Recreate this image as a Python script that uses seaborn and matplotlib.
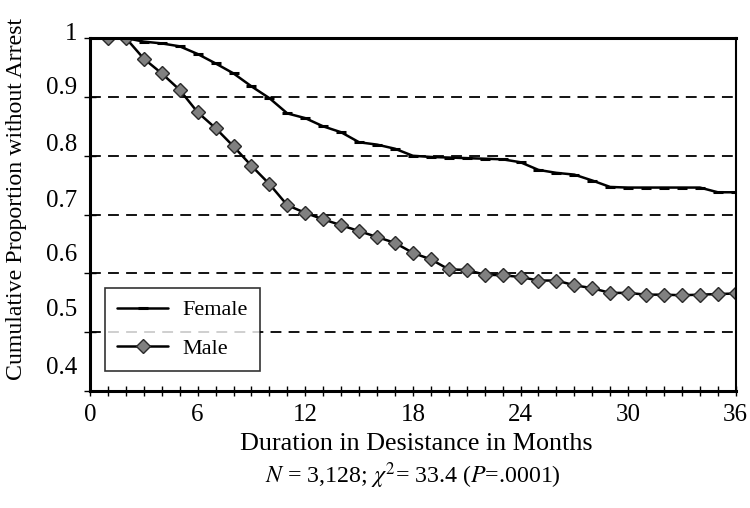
import numpy as np
import pandas as pd
import seaborn as sns
import matplotlib.pyplot as plt
from matplotlib.ticker import MultipleLocator
from matplotlib.transforms import offset_copy

# months since desistance began
months = list(range(1, 37))

# cumulative proportion without arrest
female = [1.000, 1.000, 0.994, 0.991, 0.986, 0.973, 0.957, 0.940, 0.918, 0.898,
          0.872, 0.864, 0.850, 0.840, 0.823, 0.819, 0.812, 0.800, 0.798, 0.797,
          0.796, 0.795, 0.794, 0.789, 0.776, 0.771, 0.768, 0.758, 0.747, 0.746,
          0.746, 0.746, 0.746, 0.746, 0.738, 0.738]
male = [1.000, 1.000, 0.965, 0.940, 0.912, 0.874, 0.847, 0.816, 0.783, 0.752,
        0.716, 0.703, 0.692, 0.682, 0.672, 0.662, 0.652, 0.635, 0.624, 0.607,
        0.606, 0.598, 0.597, 0.594, 0.588, 0.588, 0.580, 0.575, 0.567, 0.567,
        0.564, 0.564, 0.563, 0.564, 0.565, 0.566]

x_ticks = [0, 6, 12, 18, 24, 30, 36]
y_ticks = [0.4, 0.5, 0.6, 0.7, 0.8, 0.9, 1.0]
y_labels = ["0.4", "0.5", "0.6", "0.7", "0.8", "0.9", "1"]

df = pd.DataFrame({"Month": months, "Female": female, "Male": male})

sns.set_theme(style="white")
plt.rcParams["font.family"] = ["Liberation Serif", "DejaVu Serif"]
plt.rcParams["mathtext.fontset"] = "stix"
plt.rcParams["text.color"] = "black"
plt.rcParams["axes.labelcolor"] = "black"

fig = plt.figure(figsize=(7.5, 5.08), dpi=100)
ax = fig.add_axes([0.12, 0.23, 0.861, 0.695])

sns.lineplot(data=df, x="Month", y="Female", ax=ax, color="black", lw=1.8,
             marker="_", markersize=7, markeredgewidth=2.2,
             markeredgecolor="black", label="Female")
sns.lineplot(data=df, x="Month", y="Male", ax=ax, color="black", lw=1.8,
             marker="D", markersize=7.5, markerfacecolor="#808080",
             markeredgecolor="#2a2a2a", markeredgewidth=1.0, label="Male")

ax.set_xlim(0, 36)
ax.set_ylim(0.4, 1.0)
ax.set_xticks(x_ticks)
ax.xaxis.set_minor_locator(MultipleLocator(1))
ax.set_yticks(y_ticks)
ax.set_yticklabels([])

# the original's y labels creep upward relative to their ticks
shifts = [23, 22, 18, 14, 11, 9, 4]
ytrans = ax.get_yaxis_transform()
for yv, lab, dy in zip(y_ticks, y_labels, shifts):
    tr = offset_copy(ytrans, fig=fig, x=-13, y=dy, units="dots")
    ax.text(0, yv, lab, transform=tr, ha="right", va="center", fontsize=18)

# dashed reference lines
for yv in y_ticks[1:-1]:
    ax.axhline(yv, color="black", lw=1.3, ls=(0, (6, 4)), zorder=0)

for side in ["left", "bottom", "top"]:
    ax.spines[side].set_linewidth(2.2)
    ax.spines[side].set_color("black")
ax.spines["right"].set_linewidth(1.5)
ax.spines["right"].set_color("black")

ax.tick_params(axis="x", which="both", direction="inout", length=7, width=1,
               colors="black", labelsize=18, pad=6, bottom=True)
ax.tick_params(axis="x", which="minor", labelbottom=False)
ax.tick_params(axis="y", direction="inout", length=8, width=1, colors="black",
               left=True)

ax.set_xlabel("")
ax.set_ylabel("Cumulative Proportion without Arrest", fontsize=17.2, color="black")
ax.yaxis.set_label_coords(-0.097, 0.545)

fig.text(0.555, 0.126, "Duration in Desistance in Months", ha="center",
         va="center", fontsize=18.8)
fig.text(0.551, 0.063, r"$N$ = 3,128; $\chi^{2}$= 33.4 ($P$=.0001)",
         ha="center", va="center", fontsize=17.2)

leg = ax.legend(loc="lower left", bbox_to_anchor=(0.023, 0.057), borderaxespad=0,
                fontsize=16, frameon=True, fancybox=False, edgecolor="black",
                handlelength=2.3, labelspacing=0.8, borderpad=0.55,
                handletextpad=0.65)
leg.get_frame().set_linewidth(1.2)

fig.savefig("out.png", dpi=100)
